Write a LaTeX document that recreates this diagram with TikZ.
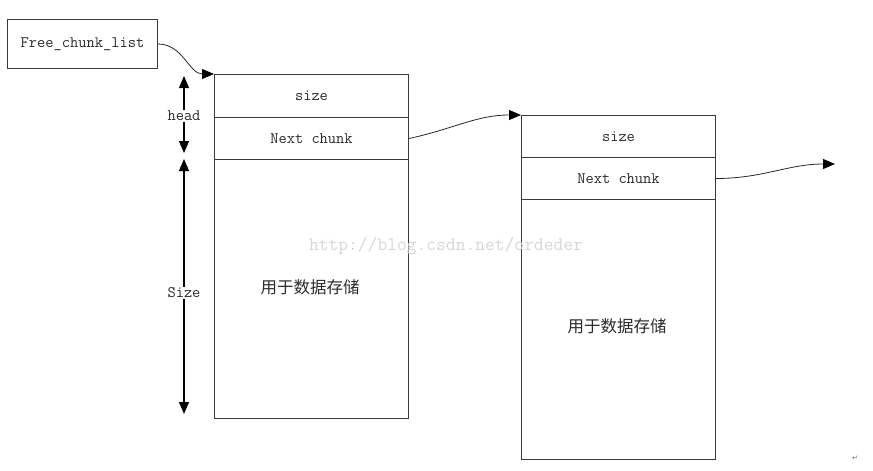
\documentclass[tikz,border=0pt]{standalone}
\usepackage{fontspec}
\setmainfont{Latin Modern Mono}
\newfontfamily\cjk{Noto Sans CJK SC}
\newfontfamily\symfont{DejaVu Sans}
\usetikzlibrary{arrows.meta}
\definecolor{linec}{HTML}{3A3A3A}
\definecolor{textc}{HTML}{2A2A2A}
\tikzset{
  cell/.style={draw=linec, line width=1pt, inner sep=0pt, anchor=north west,
    minimum width=194pt, text=textc, font=\fontsize{16}{18}\selectfont},
  lbl/.style={text=textc, font=\fontsize{16}{18}\selectfont, inner sep=1pt},
  link/.style={draw=black!85, line width=0.8pt, -{Triangle[length=12pt,width=10pt,color=black]}},
  dim/.style={draw=black, line width=1.2pt, -{Triangle[length=12pt,width=10pt]}},
  datatext/.style={text=textc, font=\cjk\fontsize{16.5}{18}\selectfont}
}
\begin{document}
\begin{tikzpicture}[x=1pt,y=-1pt]
\useasboundingbox (0,0) rectangle (873,471);
% free list head
\node[cell, minimum width=150pt, minimum height=49pt] (fcl) at (7,19) {Free\_chunk\_list};
% chunk 1
\node[cell, minimum height=43pt] (s1) at (214,74) {size};
\node[cell, minimum height=42pt] (n1) at (214,117) {Next chunk};
\node[cell, minimum height=259pt] (d1) at (214,159) {};
\node[datatext] (t1) at (310,287) {用于数据存储};
% chunk 2
\node[cell, minimum height=42pt] (s2) at (521,115) {size};
\node[cell, minimum height=42pt] (n2) at (521,157) {Next chunk};
\node[cell, minimum height=260pt] (d2) at (521,199) {};
\node[datatext] (t2) at (617,326) {用于数据存储};
% watermark
\node[text=black!16, font=\fontsize{19}{21}\selectfont] (wm) at (446,246) {http://blog.csdn.net/ordeder};
% links
\coordinate (endp) at (835,164);
\draw[link] (fcl.east) to[out=0,in=180] (s1.north west);
\draw[link] (n1.east) to[out=12,in=180] (s2.north west);
\draw[link] (n2.east) to[out=0,in=180] (endp);
% dimension labels
\node[lbl] (head) at (184,116) {head};
\node[lbl] (size) at (184,293) {Size};
\coordinate (ht) at (184,76);
\coordinate (hb) at (184,153);
\coordinate (st) at (184,159);
\coordinate (sb) at (184,414);
\draw[dim] (head.north) -- (ht);
\draw[dim] (head.south) -- (hb);
\draw[dim] (size.north) -- (st);
\draw[dim] (size.south) -- (sb);
% paragraph mark
\node[text=black!60, font=\symfont\fontsize{7}{8}\selectfont] (pm) at (855,458) {↵};
\end{tikzpicture}
\end{document}
